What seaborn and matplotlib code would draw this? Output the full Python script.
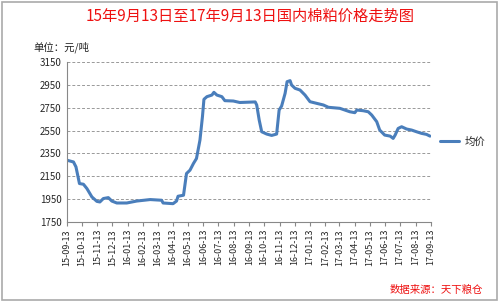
import matplotlib
matplotlib.use("Agg")
import matplotlib.pyplot as plt
import matplotlib.dates as mdates
import seaborn as sns
import pandas as pd
from matplotlib.patches import Rectangle

dates = ["2015-09-13","2015-09-26","2015-10-01","2015-10-08","2015-10-16","2015-10-23",
         "2015-11-02","2015-11-12","2015-11-18","2015-11-25","2015-12-05","2015-12-12",
         "2015-12-22","2016-01-11","2016-01-31","2016-02-27","2016-03-21","2016-03-24",
         "2016-04-13","2016-04-20","2016-04-23","2016-05-04","2016-05-10","2016-05-17",
         "2016-05-24","2016-05-30","2016-06-06","2016-06-11","2016-06-14","2016-06-20",
         "2016-06-30","2016-07-04","2016-07-10","2016-07-20","2016-07-26","2016-08-12",
         "2016-08-25","2016-09-25","2016-09-28","2016-10-03","2016-10-08","2016-10-18",
         "2016-10-28","2016-11-07","2016-11-12","2016-11-17","2016-11-24","2016-11-28",
         "2016-12-04","2016-12-07","2016-12-14","2016-12-24","2017-01-03","2017-01-13",
         "2017-01-26","2017-02-09","2017-02-19","2017-03-14","2017-03-24","2017-04-03",
         "2017-04-13","2017-04-17","2017-04-30","2017-05-10","2017-05-17","2017-05-27",
         "2017-06-02","2017-06-12","2017-06-23","2017-06-29","2017-07-03","2017-07-09",
         "2017-07-16","2017-07-26","2017-08-05","2017-08-15","2017-08-25","2017-09-04",
         "2017-09-11"]
prices = [2290,2275,2232,2086,2080,2042,
          1969,1930,1925,1955,1963,1933,
          1916,1916,1933,1946,1940,1916,
          1910,1933,1975,1984,2174,2203,
          2262,2305,2466,2670,2823,2846,
          2860,2884,2860,2846,2811,2808,
          2795,2800,2773,2641,2539,2519,
          2507,2519,2729,2764,2875,2977,
          2986,2948,2919,2904,2860,2802,
          2788,2773,2753,2744,2729,2714,
          2706,2729,2723,2714,2685,2627,
          2554,2510,2501,2481,2510,2568,
          2583,2563,2554,2539,2525,2516,
          2501]
series_name = "均价"
title = "15年9月13日至17年9月13日国内棉粕价格走势图"
unit_label = "单位：元/吨"
source_label = "数据来源：天下粮仓"
y_ticks = [1750, 1950, 2150, 2350, 2550, 2750, 2950, 3150]
x_tick_labels = ["15-09-13","15-10-13","15-11-13","15-12-13","16-01-13","16-02-13",
                 "16-03-13","16-04-13","16-05-13","16-06-13","16-07-13","16-08-13",
                 "16-09-13","16-10-13","16-11-13","16-12-13","17-01-13","17-02-13",
                 "17-03-13","17-04-13","17-05-13","17-06-13","17-07-13","17-08-13",
                 "17-09-13"]

df = pd.DataFrame({"date": pd.to_datetime(dates), "price": prices, "series": series_name})

sns.set_style("white")
plt.rcParams['font.family'] = ['Noto Sans CJK SC', 'DejaVu Sans']

fig = plt.figure(figsize=(5.0, 3.02), dpi=100)
fig.patch.set_facecolor("white")
ax = fig.add_axes([0.134, 0.265, 0.728, 0.53])

sns.lineplot(data=df, x="date", y="price", hue="series", palette=["#4a7ebb"],
             linewidth=2.2, ax=ax, legend=True)

ax.set_ylim(1750, 3150)
ax.set_yticks(y_ticks)
ax.set_xlim(pd.Timestamp("2015-09-13"), pd.Timestamp("2017-09-13"))
tick_dates = pd.to_datetime(["20" + t for t in x_tick_labels], format="%Y-%m-%d")
ax.set_xticks(tick_dates)
ax.set_xticklabels(x_tick_labels, rotation=90)
ax.tick_params(axis="x", labelsize=6.5, length=3, direction="out", color="#888888",
               pad=2, bottom=True)
ax.tick_params(axis="y", labelsize=7, length=0, pad=4)
ax.yaxis.grid(True, linestyle=(0, (3, 2)), color="#999999", linewidth=0.7)
ax.set_xlabel("")
ax.set_ylabel("")
for s in ["top", "right"]:
    ax.spines[s].set_visible(False)
for s in ["left", "bottom"]:
    ax.spines[s].set_color("#888888")
    ax.spines[s].set_linewidth(0.8)

ax.legend(loc="center left", bbox_to_anchor=(1.0, 0.5), frameon=False,
          fontsize=7.5, handlelength=1.8, handletextpad=0.5)

fig.text(0.5, 0.945, title, ha="center", va="center", fontsize=11, color="#ee1111")
fig.text(0.066, 0.845, unit_label, ha="left", va="center", fontsize=7.5, color="#222222")
fig.text(0.965, 0.04, source_label, ha="right", va="center", fontsize=7.5, color="#ee1111",
         style="italic")

fig.patches.append(Rectangle((0.004, 0.005), 0.99, 0.99, transform=fig.transFigure,
                             fill=False, edgecolor="#aaaaaa", linewidth=1.2))

fig.savefig("out.png", dpi=100)
